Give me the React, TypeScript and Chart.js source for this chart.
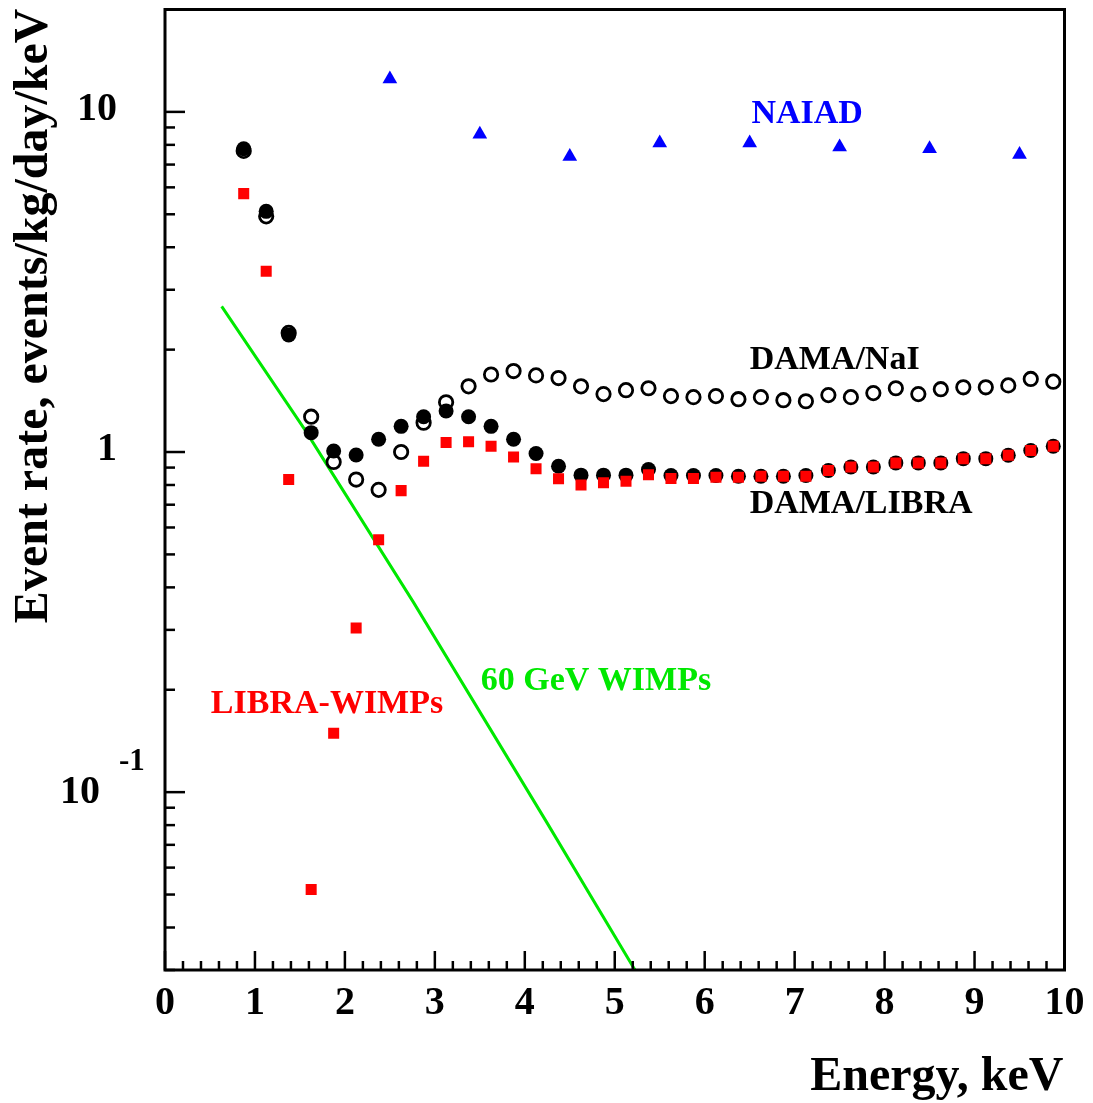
import React, { useEffect, useRef } from "react";
import { Chart, registerables } from "chart.js";

Chart.register(...registerables);

// ---- data ----
const energyBins = [
  0.875, 1.125, 1.375, 1.625, 1.875, 2.125, 2.375, 2.625, 2.875, 3.125, 3.375, 3.625, 3.875,
  4.125, 4.375, 4.625, 4.875, 5.125, 5.375, 5.625, 5.875, 6.125, 6.375, 6.625, 6.875, 7.125,
  7.375, 7.625, 7.875, 8.125, 8.375, 8.625, 8.875, 9.125, 9.375, 9.625, 9.875,
];
const damaNaI = [
  7.68, 4.93, 2.24, 1.27, 0.935, 0.83, 0.774, 1.0, 1.22, 1.4, 1.56, 1.69, 1.73,
  1.68, 1.65, 1.56, 1.48, 1.52, 1.54, 1.46, 1.45, 1.46, 1.43, 1.45, 1.42, 1.41,
  1.47, 1.45, 1.49, 1.54, 1.48, 1.53, 1.55, 1.55, 1.57, 1.64, 1.61,
];
const damaLibra = [
  7.79, 5.1, 2.21, 1.14, 1.007, 0.98, 1.09, 1.19, 1.27, 1.32, 1.27, 1.19, 1.09,
  0.99, 0.908, 0.855, 0.855, 0.855, 0.888, 0.853, 0.853, 0.853, 0.849, 0.849, 0.849, 0.853,
  0.882, 0.904, 0.904, 0.929, 0.929, 0.929, 0.956, 0.956, 0.978, 1.01, 1.04,
];
const libraWimps = [
  5.75, 3.4, 0.83, 0.0517, 0.149, 0.304, 0.552, 0.77, 0.939, 1.067, 1.072, 1.04, 0.967,
  0.893, 0.834, 0.8, 0.812, 0.821, 0.857, 0.836, 0.836, 0.843, 0.843, 0.849, 0.849, 0.849,
  0.882, 0.904, 0.904, 0.929, 0.929, 0.929, 0.956, 0.956, 0.978, 1.01, 1.04,
];
const naiadEnergy = [2.5, 3.5, 4.5, 5.5, 6.5, 7.5, 8.5, 9.5];
const naiadRate = [12.5, 8.6, 7.39, 8.1, 8.1, 7.88, 7.79, 7.5];
const wimpEnergy = [0.63, 1.556, 2.761, 4.236, 5.225];
const wimpRate = [2.68, 1.162, 0.362, 0.0822, 0.03];

const xTickValues = [0, 1, 2, 3, 4, 5, 6, 7, 8, 9, 10];
const yTickValues = [0.1, 1, 10];
const yTickLabels = ["10", "1", "10"];
const yTickExponents = ["-1", "", ""];

const xTitle = "Energy, keV";
const yTitle = "Event rate, events/kg/day/keV";

const FONT = '"Liberation Serif", "Times New Roman", serif';
const GREEN = "#00e800";

const annotations = [
  { text: "NAIAD", x: 6.52, y: 9.29, color: "#0000ff" },
  { text: "DAMA/NaI", x: 6.5, y: 1.76, color: "#000000" },
  { text: "DAMA/LIBRA", x: 6.5, y: 0.664, color: "#000000" },
  { text: "60 GeV WIMPs", x: 3.51, y: 0.2, color: GREEN },
  { text: "LIBRA-WIMPs", x: 0.51, y: 0.171, color: "#ff0000" },
];

const framePlugin = {
  id: "rootFrame",
  afterDatasetsDraw(chart: any) {
    const { ctx, chartArea: a, scales } = chart;
    const xs = scales.x;
    const ys = scales.y;
    ctx.save();
    ctx.strokeStyle = "#000";
    ctx.lineWidth = 2.5;
    // x ticks (inward)
    for (let i = 0; i <= 50; i++) {
      const v = i / 5;
      const px = xs.getPixelForValue(v);
      const len = i % 5 === 0 ? 19 : 9;
      ctx.beginPath();
      ctx.moveTo(px, a.bottom);
      ctx.lineTo(px, a.bottom - len);
      ctx.stroke();
    }
    // y ticks (inward)
    const ymin = ys.min;
    const ymax = ys.max;
    for (const dec of [0.01, 0.1, 1, 10]) {
      for (let m = 1; m <= 9; m++) {
        const v = m * dec;
        if (v < ymin * 0.999 || v > ymax * 1.001) continue;
        const py = ys.getPixelForValue(v);
        const len = m === 1 ? 20 : 10;
        ctx.beginPath();
        ctx.moveTo(a.left, py);
        ctx.lineTo(a.left + len, py);
        ctx.stroke();
      }
    }
    // frame
    ctx.lineWidth = 3;
    ctx.strokeRect(a.left, a.top, a.right - a.left, a.bottom - a.top);

    // x tick labels
    ctx.fillStyle = "#000";
    ctx.font = `bold 40px ${FONT}`;
    ctx.textAlign = "center";
    ctx.textBaseline = "alphabetic";
    xTickValues.forEach((v) => {
      ctx.fillText(String(v), xs.getPixelForValue(v), a.bottom + 44);
    });

    // y tick labels
    yTickValues.forEach((v, i) => {
      const py = ys.getPixelForValue(v);
      ctx.textBaseline = "middle";
      if (yTickExponents[i]) {
        ctx.font = `bold 40px ${FONT}`;
        ctx.textAlign = "right";
        ctx.fillText(yTickLabels[i], a.left - 65, py + 1);
        ctx.font = `bold 31px ${FONT}`;
        ctx.textAlign = "left";
        ctx.fillText(yTickExponents[i], a.left - 46, py - 30);
      } else {
        ctx.font = `bold 40px ${FONT}`;
        ctx.textAlign = "right";
        ctx.fillText(yTickLabels[i], a.left - 48, py - 2);
      }
    });

    // axis titles
    ctx.font = `bold 48px ${FONT}`;
    ctx.textBaseline = "alphabetic";
    ctx.textAlign = "right";
    ctx.fillText(xTitle, a.right - 1, a.bottom + 120);

    ctx.save();
    ctx.translate(47, a.top - 1);
    ctx.rotate(-Math.PI / 2);
    ctx.textAlign = "right";
    ctx.fillText(yTitle, 0, 0);
    ctx.restore();

    // annotations
    ctx.font = `bold 34px ${FONT}`;
    ctx.textAlign = "left";
    ctx.textBaseline = "alphabetic";
    annotations.forEach((t) => {
      ctx.fillStyle = t.color;
      ctx.fillText(t.text, xs.getPixelForValue(t.x), ys.getPixelForValue(t.y));
    });
    ctx.restore();
  },
};

export default function App() {
  const canvasRef = useRef<HTMLCanvasElement | null>(null);

  useEffect(() => {
    if (!canvasRef.current) return;
    const chart = new Chart(canvasRef.current, {
      type: "scatter",
      data: {
        datasets: [
          {
            label: "LIBRA-WIMPs",
            data: energyBins.map((x, i) => ({ x, y: libraWimps[i] })),
            pointStyle: "rect",
            pointRadius: 7.8,
            pointBorderWidth: 0,
            backgroundColor: "#ff0000",
            borderColor: "#ff0000",
            showLine: false,
            order: 1,
          },
          {
            label: "DAMA/LIBRA",
            data: energyBins.map((x, i) => ({ x, y: damaLibra[i] })),
            pointStyle: "circle",
            pointRadius: 7.5,
            pointBorderWidth: 0,
            backgroundColor: "#000000",
            borderColor: "#000000",
            showLine: false,
            order: 2,
          },
          {
            label: "DAMA/NaI",
            data: energyBins.map((x, i) => ({ x, y: damaNaI[i] })),
            pointStyle: "circle",
            pointRadius: 6.7,
            pointBorderWidth: 2.8,
            backgroundColor: "rgba(255,255,255,0)",
            borderColor: "#000000",
            showLine: false,
            order: 3,
          },
          {
            label: "NAIAD",
            data: naiadEnergy.map((x, i) => ({ x, y: naiadRate[i] })),
            pointStyle: "triangle",
            pointRadius: 8.5,
            pointBorderWidth: 0,
            backgroundColor: "#0000ff",
            borderColor: "#0000ff",
            showLine: false,
            order: 4,
          },
          {
            label: "60 GeV WIMPs",
            data: wimpEnergy.map((x, i) => ({ x, y: wimpRate[i] })),
            showLine: true,
            pointRadius: 0,
            borderWidth: 3,
            borderColor: GREEN,
            backgroundColor: GREEN,
            fill: false,
            tension: 0,
            order: 5,
          } as any,
        ],
      },
      options: {
        animation: false,
        responsive: true,
        maintainAspectRatio: false,
        events: [],
        layout: { padding: { left: 165, top: 4, right: 28.5, bottom: 133 } },
        scales: {
          x: { type: "linear", min: 0, max: 10, display: false },
          y: { type: "logarithmic", min: 0.03, max: 20, display: false },
        },
        plugins: {
          legend: { display: false },
          tooltip: { enabled: false },
          title: { display: false },
        },
      },
      plugins: [framePlugin],
    });
    return () => chart.destroy();
  }, []);

  return (
    <div
      style={{
        position: "absolute",
        left: 0,
        top: 0,
        width: 1093,
        height: 1103,
        background: "#ffffff",
      }}
    >
      <canvas ref={canvasRef} />
    </div>
  );
}
